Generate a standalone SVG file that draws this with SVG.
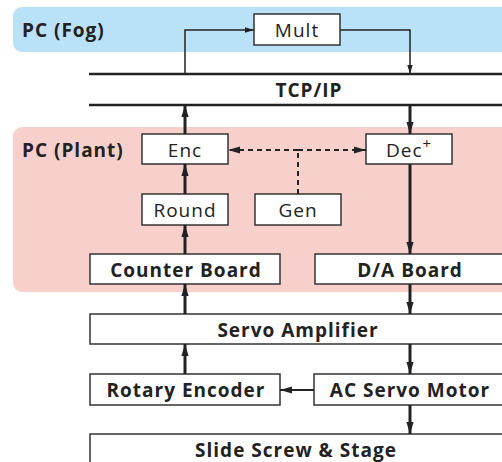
<svg xmlns="http://www.w3.org/2000/svg" width="502" height="462" viewBox="0 0 502 462">
<style>
.b{fill:#fff;stroke:#333;stroke-width:1.5}
.t{font-family:"Open Sans","DejaVu Sans",sans-serif;font-size:19px;fill:#222;text-anchor:middle;letter-spacing:1px}
.tb{font-weight:bold;letter-spacing:1px}
.c{stroke:#222;fill:none}
.th{stroke-width:3}
.tn{stroke-width:1.5}
.d{stroke-width:2;stroke-dasharray:5,4}
</style>
<defs>
<marker id="a" viewBox="0 0 10 10" refX="10" refY="5" markerWidth="4" markerHeight="4" orient="auto" markerUnits="strokeWidth"><path d="M0,2 L10,5 L0,8 Z" fill="#222"/></marker>
<marker id="as" viewBox="0 0 10 10" refX="10" refY="5" markerWidth="6" markerHeight="6" orient="auto" markerUnits="strokeWidth"><path d="M0,2 L10,5 L0,8 Z" fill="#222"/></marker>
</defs>
<rect x="13" y="7" width="500" height="45" rx="9" fill="#b9e1f7"/>
<rect x="13" y="127" width="500" height="165" rx="9" fill="#f8d0cb"/>
<text class="t tb" x="22" y="37" style="text-anchor:start">PC (Fog)</text>
<text class="t tb" x="22" y="157" style="text-anchor:start">PC (Plant)</text>
<g id="tcpip">
<line x1="89" y1="74" x2="502" y2="74" stroke="#222" stroke-width="2.5"/>
<line x1="89" y1="105" x2="502" y2="105" stroke="#222" stroke-width="2.5"/>
<text class="t tb" x="309" y="97">TCP/IP</text>
</g>
<g id="mult"><rect class="b" x="254" y="14" width="86" height="31"/><text class="t" x="297" y="37">Mult</text></g>
<g id="enc"><rect class="b" x="142" y="134" width="86" height="30"/><text class="t" x="185" y="157">Enc</text></g>
<g id="dec"><rect class="b" x="366" y="134" width="86" height="30"/><text class="t" x="409" y="157">Dec<tspan dy="-8" font-size="15">+</tspan></text></g>
<g id="round"><rect class="b" x="142" y="194" width="86" height="31"/><text class="t" x="185" y="217">Round</text></g>
<g id="gen"><rect class="b" x="255" y="194" width="86" height="31"/><text class="t" x="298" y="217">Gen</text></g>
<g id="counter"><rect class="b" x="90" y="254" width="190" height="30"/><text class="t tb" x="186" y="277">Counter Board</text></g>
<g id="da"><rect class="b" x="315" y="254" width="200" height="30"/><text class="t tb" x="410" y="277">D/A Board</text></g>
<g id="servoamp"><rect class="b" x="90" y="314" width="425" height="30"/><text class="t tb" x="298" y="337">Servo Amplifier</text></g>
<g id="rotary"><rect class="b" x="90" y="374" width="190" height="31"/><text class="t tb" x="186" y="397">Rotary Encoder</text></g>
<g id="acmotor"><rect class="b" x="314" y="374" width="200" height="31"/><text class="t tb" x="410" y="397">AC Servo Motor</text></g>
<g id="slide"><rect class="b" x="90" y="434" width="425" height="40"/><text class="t tb" x="296" y="457">Slide Screw &amp; Stage</text></g>
<g id="connectors">
<polyline class="c tn" points="185,74 185,30 254,30" marker-end="url(#as)"/>
<polyline class="c tn" points="340,30 410,30 410,74" marker-end="url(#as)"/>
<line class="c th" x1="185" y1="134" x2="185" y2="105" marker-end="url(#a)"/>
<line class="c th" x1="185" y1="194" x2="185" y2="164" marker-end="url(#a)"/>
<line class="c th" x1="185" y1="254" x2="185" y2="225" marker-end="url(#a)"/>
<line class="c th" x1="185" y1="314" x2="185" y2="284" marker-end="url(#a)"/>
<line class="c th" x1="185" y1="374" x2="185" y2="344" marker-end="url(#a)"/>
<line class="c th" x1="410" y1="105" x2="410" y2="134" marker-end="url(#a)"/>
<line class="c th" x1="410" y1="164" x2="410" y2="254" marker-end="url(#a)"/>
<line class="c th" x1="410" y1="284" x2="410" y2="314" marker-end="url(#a)"/>
<line class="c th" x1="410" y1="344" x2="410" y2="374" marker-end="url(#a)"/>
<line class="c th" x1="410" y1="405" x2="410" y2="434" marker-end="url(#a)"/>
<line class="c" stroke-width="2" x1="314" y1="390" x2="280" y2="390" marker-end="url(#as)"/>
<line class="c d" x1="298" y1="194" x2="298" y2="150"/>
<line class="c d" x1="298" y1="150" x2="228" y2="150" marker-end="url(#as)"/>
<line class="c d" x1="298" y1="150" x2="366" y2="150" marker-end="url(#as)"/>
</g>
</svg>
